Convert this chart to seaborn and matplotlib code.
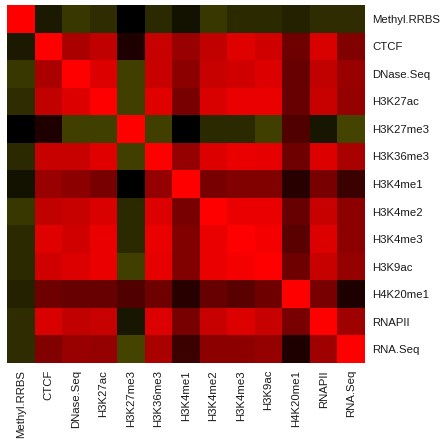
import numpy as np
import pandas as pd
import seaborn as sns
import matplotlib.pyplot as plt
from matplotlib.colors import LinearSegmentedColormap

marks = ["Methyl.RRBS", "CTCF", "DNase.Seq", "H3K27ac", "H3K27me3", "H3K36me3",
         "H3K4me1", "H3K4me2", "H3K4me3", "H3K9ac", "H4K20me1", "RNAPII", "RNA.Seq"]

# correlation estimates, one row per mark
methyl = [1.00, -0.35, -0.75, -0.60, 0.00, -0.55, -0.25, -0.75, -0.55, -0.55, -0.45, -0.60, -0.60]
ctcf = [-0.35, 1.00, 0.67, 0.75, 0.12, 0.78, 0.60, 0.75, 0.87, 0.82, 0.43, 0.85, 0.50]
dnase = [-0.75, 0.67, 1.00, 0.86, -0.85, 0.78, 0.55, 0.78, 0.82, 0.86, 0.40, 0.75, 0.60]
k27ac = [-0.60, 0.75, 0.86, 1.00, -0.85, 0.88, 0.47, 0.85, 0.92, 0.92, 0.40, 0.78, 0.58]
k27me3 = [0.00, 0.12, -0.85, -0.85, 1.00, -0.85, 0.00, -0.55, -0.55, -0.85, 0.32, -0.30, -0.90]
k36me3 = [-0.55, 0.78, 0.78, 0.88, -0.85, 1.00, 0.58, 0.86, 0.92, 0.90, 0.43, 0.86, 0.66]
k4me1 = [-0.25, 0.60, 0.55, 0.47, 0.00, 0.58, 1.00, 0.47, 0.50, 0.50, 0.16, 0.47, 0.23]
k4me2 = [-0.75, 0.75, 0.78, 0.85, -0.55, 0.86, 0.47, 1.00, 0.92, 0.92, 0.40, 0.78, 0.55]
k4me3 = [-0.55, 0.87, 0.82, 0.92, -0.55, 0.92, 0.50, 0.92, 1.00, 0.96, 0.35, 0.86, 0.55]
k9ac = [-0.55, 0.82, 0.86, 0.92, -0.85, 0.90, 0.50, 0.92, 0.96, 1.00, 0.43, 0.78, 0.58]
k20me1 = [-0.45, 0.43, 0.40, 0.40, 0.32, 0.43, 0.16, 0.40, 0.35, 0.43, 1.00, 0.47, 0.12]
rnapii = [-0.60, 0.85, 0.75, 0.78, -0.30, 0.86, 0.47, 0.78, 0.86, 0.78, 0.47, 1.00, 0.62]
rnaseq = [-0.60, 0.50, 0.60, 0.58, -0.90, 0.66, 0.23, 0.55, 0.55, 0.58, 0.12, 0.62, 1.00]

rows = [methyl, ctcf, dnase, k27ac, k27me3, k36me3, k4me1, k4me2, k4me3, k9ac,
        k20me1, rnapii, rnaseq]
corr = pd.DataFrame(rows, index=marks, columns=marks)

cmap = LinearSegmentedColormap.from_list(
    "olive_black_red", [(0.0, (0.30, 0.29, 0.0)), (0.5, (0, 0, 0)), (1.0, (1, 0, 0))])

sns.set_theme(style="white")
plt.rcParams["font.family"] = ["Liberation Sans", "DejaVu Sans"]

fig = plt.figure(figsize=(4.46, 4.45), dpi=100)
ax = fig.add_axes([7 / 446, 82 / 445, 358 / 446, 358 / 445])
sns.heatmap(corr, cmap=cmap, vmin=-1, vmax=1, cbar=False, ax=ax,
            xticklabels=marks, yticklabels=marks)

ax.yaxis.tick_right()
ax.tick_params(axis="both", length=0, labelsize=8.2, pad=5, labelcolor="#1a1a1a")
plt.setp(ax.get_yticklabels(), rotation=0, ha="left")
plt.setp(ax.get_xticklabels(), rotation=90)

fig.savefig("out.png", dpi=100)
